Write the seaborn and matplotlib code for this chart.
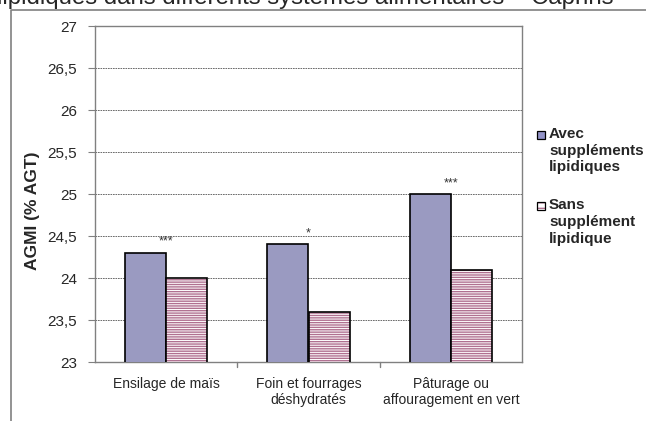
import pandas as pd
import numpy as np
import matplotlib
matplotlib.use('Agg')
import matplotlib.pyplot as plt
import seaborn as sns
from matplotlib.patches import Rectangle
from matplotlib.lines import Line2D

# Values
systemes = ['Ensilage de maïs', 'Foin et fourrages\ndéshydratés', 'Pâturage ou\naffouragement en vert']
avec = [24.3, 24.4, 25.0]
sans = [24.0, 23.6, 24.1]
signif = ['***', '*', '***']
series = ['Avec\nsuppléments\nlipidiques', 'Sans\nsupplément\nlipidique']

df = pd.DataFrame({
    'systeme': systemes * 2,
    'agmi': avec + sans,
    'serie': [series[0]] * 3 + [series[1]] * 3,
})

sns.set_style('white')
plt.rcParams['font.family'] = ['Liberation Sans', 'DejaVu Sans']

fig = plt.figure(figsize=(6.46, 4.21), dpi=100)
ax = fig.add_axes([95 / 646, 1 - 362 / 421, 427 / 646, 336 / 421])

purple = '#9393c8'
pink = '#b07090'
sns.barplot(data=df, x='systeme', y='agmi', hue='serie', order=systemes, hue_order=series,
            palette=[purple, 'white'], width=0.58, ax=ax, legend=False)

# style the bars: solid purple, white with pink horizontal hatch
for i, p in enumerate(ax.patches):
    if i < 3:
        p.set_edgecolor('black')
        p.set_linewidth(1.2)
        p.set_zorder(3)
    else:
        p.set_facecolor('white')
        p.set_edgecolor(pink)
        p.set_hatch('-------')
        p.set_linewidth(0)
        p.set_zorder(3)
        ax.add_patch(Rectangle(p.get_xy(), p.get_width(), p.get_height(), fill=False,
                               edgecolor='black', linewidth=1.2, zorder=4))

ax.set_ylim(23, 27)
ax.set_xlim(-0.5, 2.5)
ax.set_yticks(np.arange(23, 27.01, 0.5))
ax.set_yticklabels([f'{v:g}'.replace('.', ',') for v in np.arange(23, 27.01, 0.5)])
ax.yaxis.grid(True, linestyle=(0, (2, 1)), color='#555555', linewidth=0.6, zorder=0)
ax.set_axisbelow(True)
for s in ax.spines.values():
    s.set_color('#808080')
    s.set_linewidth(1)
ax.tick_params(axis='y', length=5, color='#808080', labelsize=11, pad=8, left=True)
ax.tick_params(axis='x', length=0, labelsize=10, pad=11)
for x in [0.5, 1.5]:
    ax.plot([x, x], [-0.015, 0], transform=ax.get_xaxis_transform(), color='#808080',
            linewidth=1, clip_on=False)
ax.set_xlabel('')
ax.set_ylabel('AGMI (% AGT)', fontsize=12.5, fontweight='bold')
ax.yaxis.set_label_coords(-55 / 427, 0.45)

# significance stars
for i, (v, s) in enumerate(zip(avec, signif)):
    ax.text(i, v + 0.06, s, ha='center', va='bottom', fontsize=9, color='#333333')

# legend drawn by hand so the marker sits on the first line
legend_y = [135, 206]
legend_face = [purple, 'white']
legend_edge = ['black', pink]
for y, lab, fc, ec in zip(legend_y, series, legend_face, legend_edge):
    box = Rectangle((537 / 646, 1 - (y + 4) / 421), 8 / 646, 8 / 421, transform=fig.transFigure,
                    facecolor=fc, edgecolor=ec, hatch='---' if fc == 'white' else None,
                    linewidth=0)
    fig.add_artist(box)
    fig.add_artist(Rectangle((537 / 646, 1 - (y + 4) / 421), 8 / 646, 8 / 421,
                             transform=fig.transFigure, fill=False, edgecolor='black',
                             linewidth=0.9))
    fig.text(549 / 646, 1 - (y - 8) / 421, lab, ha='left', va='top', fontsize=11,
             fontweight='bold', linespacing=1.25)

# outer chart frame and cut-off title
fig.add_artist(Line2D([11 / 646, 11 / 646, 1.0], [0, 1 - 10 / 421, 1 - 10 / 421],
                      color='#808080', linewidth=1.2))
fig.text(-3 / 646, 1 - 4 / 421, 'lipidiques dans différents systèmes alimentaires – Caprins',
         ha='left', va='baseline', fontsize=17.3)

fig.savefig('out.png', dpi=100)
